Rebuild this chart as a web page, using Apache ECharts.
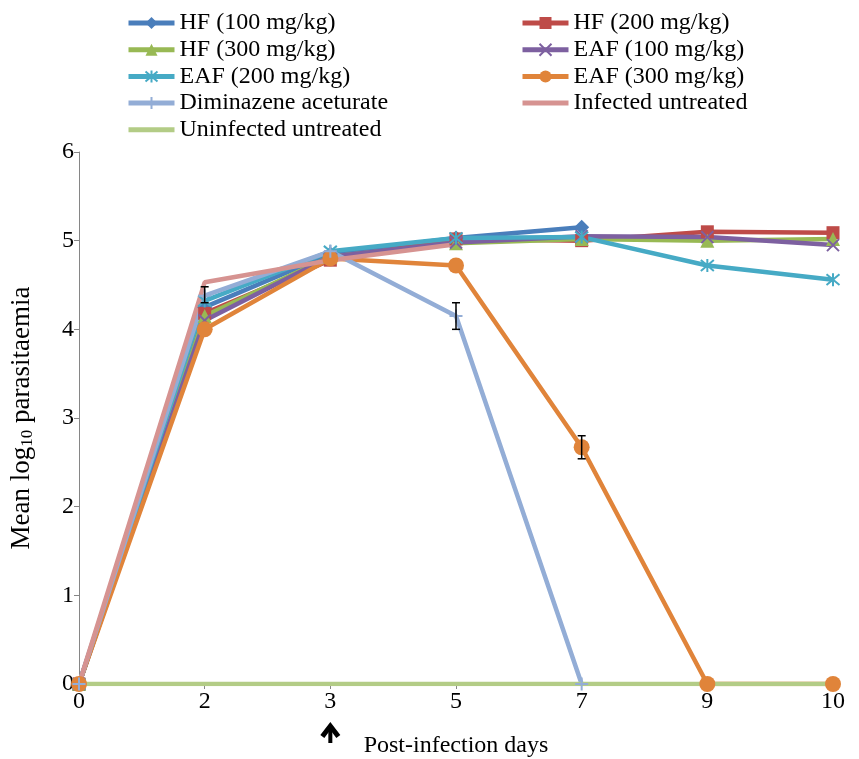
<!DOCTYPE html>
<html>
<head>
<meta charset="utf-8">
<script src="https://cdn.jsdelivr.net/npm/echarts@6/dist/echarts.min.js"></script>
<style>
  html, body { margin: 0; padding: 0; background: #fff; }
  #main { width: 859px; height: 759px; }
</style>
</head>
<body>
<div id="main"></div>
<script>
// x axis categories (days)
var days = ['0', '2', '3', '5', '7', '9', '10'];

// mean log10 parasitaemia per group
var hf100 = [0, 4.25, 4.85, 5.03, 5.15, '-', '-'];
var hf200 = [0, 4.18, 4.78, 5.02, 5.00, 5.10, 5.09];
var hf300 = [0, 4.15, 4.82, 4.97, 5.02, 5.00, 5.02];
var eaf100 = [0, 4.10, 4.82, 4.98, 5.05, 5.04, 4.95];
var eaf200 = [0, 4.32, 4.88, 5.03, 5.04, 4.72, 4.56];
var eaf300 = [0, 4.00, 4.80, 4.72, 2.67, 0, 0];
var diminazene = [0, 4.38, 4.88, 4.15, 0, '-', '-'];
var infected = [0, 4.53, 4.78, 4.96, '-', '-', '-'];
var uninfected = [0, 0, 0, 0, 0, 0, 0];

// error bars: [day index, mean, error]
var errorBars = [[1, 4.39, 0.09], [3, 4.15, 0.15], [4, 2.67, 0.13]];

var yTicks = [0, 1, 2, 3, 4, 5, 6];

var fontFam = '"Liberation Serif", "Times New Roman", serif';
var xMark = 'path://M0,0L10,10M10,0L0,10';
var starMark = 'path://M0,0L10,10M10,0L0,10M5,-1L5,11';
var plusMark = 'path://M5,0L5,10M0,5L10,5';

var myChart = echarts.init(document.getElementById('main'));

function lineSeries(name, data, color, symbol, size, stroke) {
  return {
    name: name,
    type: 'line',
    data: data,
    symbol: symbol,
    symbolSize: size,
    showSymbol: symbol !== 'none',
    lineStyle: { color: color, width: 4.5 },
    itemStyle: stroke ? { color: color, borderColor: color, borderWidth: 2 } : { color: color },
    emphasis: { disabled: true },
    animation: false
  };
}

var legendText = { fontFamily: fontFam, fontSize: 24, color: '#000' };

var option = {
  animation: false,
  grid: { left: 79, right: 26, top: 152, bottom: 75, outerBoundsMode: 'none' },
  legend: [{
    orient: 'vertical',
    left: 121, top: 6,
    itemWidth: 46, itemHeight: 15, itemGap: 2.7,
    lineStyle: { width: 5 },
    textStyle: legendText,
    data: ['HF (100 mg/kg)', 'HF (300 mg/kg)', 'EAF (200 mg/kg)', 'Diminazene aceturate',
      { name: 'Uninfected untreated', itemStyle: { opacity: 0 } }]
  }, {
    orient: 'vertical',
    left: 515, top: 6,
    itemWidth: 46, itemHeight: 15, itemGap: 2.7,
    lineStyle: { width: 5 },
    textStyle: legendText,
    data: ['HF (200 mg/kg)', 'EAF (100 mg/kg)', 'EAF (300 mg/kg)',
      { name: 'Infected untreated', itemStyle: { opacity: 0 } }]
  }],
  xAxis: {
    type: 'category',
    data: days,
    boundaryGap: false,
    name: 'Post-infection days',
    nameLocation: 'middle',
    nameGap: 50,
    nameMoveOverlap: false,
    nameTextStyle: { fontFamily: fontFam, fontSize: 24, color: '#000' },
    axisLine: { lineStyle: { color: '#868686', width: 1 } },
    axisTick: { show: true, alignWithLabel: true, length: 5, lineStyle: { color: '#868686' } },
    axisLabel: { fontFamily: fontFam, fontSize: 24, color: '#000', margin: 6 },
    splitLine: { show: false }
  },
  yAxis: {
    type: 'value',
    min: yTicks[0],
    max: yTicks[yTicks.length - 1],
    interval: 1,
    name: '{a|Mean log}{s|10}{a| parasitaemia}',
    nameLocation: 'middle',
    nameRotate: 90,
    nameGap: 43,
    nameMoveOverlap: false,
    nameTextStyle: {
      fontFamily: fontFam, fontSize: 27, color: '#000',
      rich: {
        a: { fontFamily: fontFam, fontSize: 27, color: '#000', lineHeight: 28 },
        s: { fontFamily: fontFam, fontSize: 17, color: '#000', lineHeight: 28, verticalAlign: 'bottom', padding: [10, 0, 0, 0] }
      }
    },
    axisLine: { show: true, lineStyle: { color: '#868686', width: 1 } },
    axisTick: { show: true, length: 5, lineStyle: { color: '#868686' } },
    axisLabel: { fontFamily: fontFam, fontSize: 24, color: '#000', margin: 5 },
    splitLine: { show: false }
  },
  series: [
    lineSeries('HF (100 mg/kg)', hf100, '#4A7EBB', 'diamond', 15, false),
    lineSeries('HF (200 mg/kg)', hf200, '#BE4B48', 'rect', 13, false),
    lineSeries('HF (300 mg/kg)', hf300, '#98B954', 'triangle', 14, false),
    lineSeries('EAF (100 mg/kg)', eaf100, '#7D60A0', xMark, 12, true),
    lineSeries('EAF (200 mg/kg)', eaf200, '#46AAC5', starMark, 13, true),
    lineSeries('EAF (300 mg/kg)', eaf300, '#E0843A', 'circle', 16, false),
    lineSeries('Diminazene aceturate', diminazene, '#93ADD6', plusMark, 13, true),
    lineSeries('Infected untreated', infected, '#D69391', 'none', 0, false),
    lineSeries('Uninfected untreated', uninfected, '#B3CC86', 'none', 0, false),
    {
      type: 'custom',
      name: 'err',
      z: 5,
      data: errorBars,
      renderItem: function (params, api) {
        var x = api.value(0);
        var top = api.coord([x, api.value(1) + api.value(2)]);
        var bot = api.coord([x, api.value(1) - api.value(2)]);
        var st = { stroke: '#000', lineWidth: 1.5 };
        return {
          type: 'group',
          children: [
            { type: 'line', shape: { x1: top[0], y1: top[1], x2: bot[0], y2: bot[1] }, style: st },
            { type: 'line', shape: { x1: top[0] - 4, y1: top[1], x2: top[0] + 4, y2: top[1] }, style: st },
            { type: 'line', shape: { x1: bot[0] - 4, y1: bot[1], x2: bot[0] + 4, y2: bot[1] }, style: st }
          ]
        };
      }
    }
  ]
};

myChart.setOption(option);

// treatment start arrow under day 3
var p = myChart.convertToPixel({ xAxisIndex: 0, yAxisIndex: 0 }, ['3', 0]);
myChart.setOption({
  graphic: [{
    type: 'group',
    x: p[0],
    y: p[1] + 38,
    children: [
      { type: 'polygon', shape: { points: [[0, 0], [10, 13], [6, 16], [0, 8], [-6, 16], [-10, 13]] }, style: { fill: '#000' } },
      { type: 'rect', shape: { x: -2, y: 6, width: 4, height: 15 }, style: { fill: '#000' } }
    ]
  }]
});
</script>
</body>
</html>
